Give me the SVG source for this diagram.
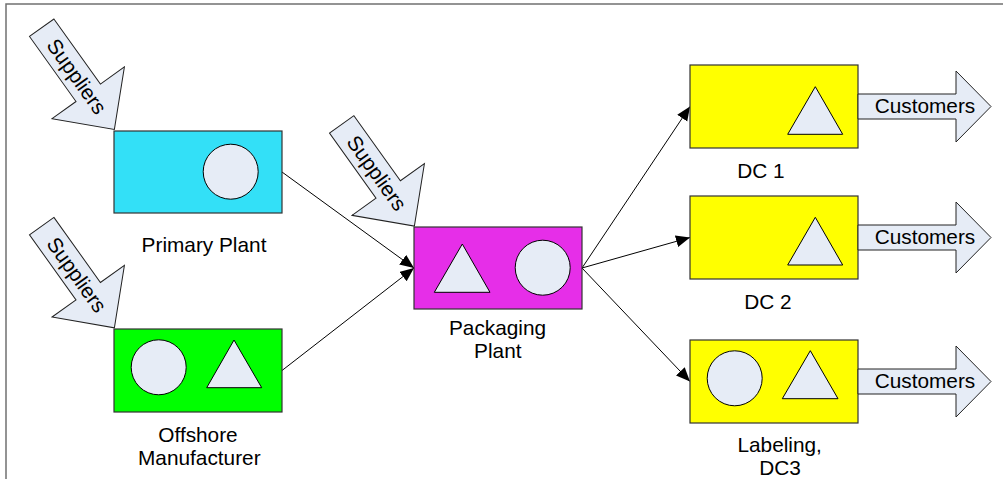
<svg xmlns="http://www.w3.org/2000/svg" width="1003" height="479" viewBox="0 0 1003 479">
<style>
  .lbl { font-family: "Liberation Sans", Arial, sans-serif; font-size: 20.8px; fill: #000; text-anchor: middle; }
  .box { stroke: #333; stroke-width: 1.2; }
  .shape { fill: #E6ECF6; stroke: #000; stroke-width: 1; }
  .fat { fill: #E6ECF6; stroke: #222; stroke-width: 1; }
  .conn { stroke: #000; stroke-width: 1; fill: none; marker-end: url(#ah); }
</style>
<defs>
  <marker id="ah" markerUnits="userSpaceOnUse" markerWidth="16" markerHeight="14" refX="14" refY="6" orient="auto">
    <path d="M0,0 L14,6 L0,12 z" fill="#000"/>
  </marker>
  <polygon id="sup" points="0,-15 80,-15 80,-44.5 125,0 80,44.5 80,15 0,15"/>
  <polygon id="cust" points="0,-12.5 98,-12.5 98,-35.5 133,0 98,35.5 98,12.5 0,12.5"/>
</defs>
<rect width="1003" height="479" fill="#fff"/>
<path d="M6,479 L6,4 L1003,4" fill="none" stroke="#707070" stroke-width="1.5"/>

<g id="connectors">
  <line class="conn" x1="282" y1="172" x2="414" y2="268"/>
  <line class="conn" x1="282" y1="370.5" x2="414" y2="268"/>
  <line class="conn" x1="582" y1="268" x2="690" y2="106.5"/>
  <line class="conn" x1="582" y1="268" x2="690" y2="237.5"/>
  <line class="conn" x1="582" y1="268" x2="690" y2="381.5"/>
</g>

<g id="suppliers-1" transform="translate(41.7,27.7) rotate(54.45)">
  <use href="#sup" class="fat"/>
  <text class="lbl" x="60" y="7">Suppliers</text>
</g>
<g id="suppliers-2" transform="translate(41.7,226.1) rotate(54.45)">
  <use href="#sup" class="fat"/>
  <text class="lbl" x="60" y="7">Suppliers</text>
</g>
<g id="suppliers-3" transform="translate(341.7,124.4) rotate(54.45)">
  <use href="#sup" class="fat"/>
  <text class="lbl" x="60" y="7">Suppliers</text>
</g>

<g id="primary-plant">
  <rect class="box" x="114" y="131" width="168" height="82" fill="#33E0F7"/>
  <circle class="shape" cx="230.7" cy="171.7" r="27.5"/>
  <text class="lbl" x="204" y="251.5">Primary Plant</text>
</g>

<g id="offshore-manufacturer">
  <rect class="box" x="114" y="329" width="168" height="83" fill="#00FF00"/>
  <circle class="shape" cx="158.7" cy="367.3" r="27.5"/>
  <polygon class="shape" points="234,340 206.7,387.7 261.7,387.7"/>
  <text class="lbl" x="198" y="441.7">Offshore</text>
  <text class="lbl" x="199.3" y="465">Manufacturer</text>
</g>

<g id="packaging-plant">
  <rect class="box" x="414" y="227" width="168" height="82" fill="#E62EE8"/>
  <polygon class="shape" points="462.3,244 434.3,292.3 490,292.3"/>
  <circle class="shape" cx="542.7" cy="267.7" r="27.5"/>
  <text class="lbl" x="497.5" y="335">Packaging</text>
  <text class="lbl" x="497.8" y="358.3">Plant</text>
</g>

<g id="dc1">
  <rect class="box" x="690" y="65" width="168" height="83" fill="#FFFF00"/>
  <polygon class="shape" points="815.3,86.7 787.7,134.3 842.7,134.3"/>
  <text class="lbl" x="761" y="178">DC 1</text>
</g>
<g id="customers-1" transform="translate(858,106.5)">
  <use href="#cust" class="fat"/>
  <text class="lbl" x="67" y="6.5">Customers</text>
</g>

<g id="dc2">
  <rect class="box" x="690" y="196" width="168" height="83" fill="#FFFF00"/>
  <polygon class="shape" points="815.3,217.3 787.7,265 842.7,265"/>
  <text class="lbl" x="768" y="309">DC 2</text>
</g>
<g id="customers-2" transform="translate(858,237.5)">
  <use href="#cust" class="fat"/>
  <text class="lbl" x="67" y="6.5">Customers</text>
</g>

<g id="dc3">
  <rect class="box" x="690" y="340" width="168" height="83" fill="#FFFF00"/>
  <circle class="shape" cx="734.7" cy="378.3" r="27.5"/>
  <polygon class="shape" points="810.3,350.7 782.3,398.7 838,398.7"/>
  <text class="lbl" x="779.7" y="451.7">Labeling,</text>
  <text class="lbl" x="780" y="475">DC3</text>
</g>
<g id="customers-3" transform="translate(858,381.5)">
  <use href="#cust" class="fat"/>
  <text class="lbl" x="67" y="6.5">Customers</text>
</g>
</svg>
